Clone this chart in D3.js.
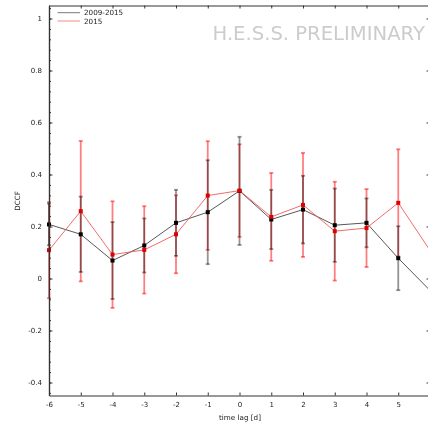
<!DOCTYPE html>
<html>
<head>
<meta charset="utf-8">
<script src="https://cdn.jsdelivr.net/npm/d3@7"></script>
<style>
  html, body { margin: 0; padding: 0; background: #fff; }
  svg { display: block; font-family: "DejaVu Sans", sans-serif; }
</style>
</head>
<body>
<svg id="chart" width="428" height="425"></svg>
<script>
// Time lags in days
const lags = [-6, -5, -4, -3, -2, -1, 0, 1, 2, 3, 4, 5, 6];

// DCCF, 2009-2015 data set
const dccfAll = [0.208, 0.170, 0.069, 0.127, 0.214, 0.255, 0.337, 0.227, 0.265, 0.205, 0.214, 0.078, -0.046];
const errAll  = [0.080, 0.145, 0.148, 0.104, 0.127, 0.200, 0.208, 0.114, 0.130, 0.141, 0.094, 0.123, 0.150];

// DCCF, 2015 data set
const dccf2015 = [0.109, 0.259, 0.092, 0.110, 0.170, 0.319, 0.338, 0.237, 0.283, 0.182, 0.194, 0.291, 0.108];
const err2015  = [0.185, 0.270, 0.205, 0.168, 0.150, 0.209, 0.178, 0.169, 0.200, 0.190, 0.150, 0.206, 0.200];

const xTicks = [-6, -5, -4, -3, -2, -1, 0, 1, 2, 3, 4, 5];
const yTicks = [-0.4, -0.2, 0, 0.2, 0.4, 0.6, 0.8, 1];

const svg = d3.select("#chart");
const plotLeft = 49, plotRight = 430, plotTop = 5.5, plotBottom = 395.5;

const x = d3.scaleLinear().domain([-6, 6]).range([plotLeft, plotRight]);
const y = d3.scaleLinear().domain([-0.45, 1.05]).range([plotBottom, plotTop]);

const axisColor = "#333";

// Watermark
svg.append("text")
  .attr("x", 212.5).attr("y", 39.5)
  .attr("font-size", 19.6)
  .attr("fill", "#cccccc")
  .text("H.E.S.S. PRELIMINARY");

// Plot contents
const plot = svg.append("g");

function drawSeries(vals, errs, barColor, barOpacity, lineColor, blend) {
  const pts = lags.map((l, i) => ({ l, v: vals[i], e: errs[i] }));
  const bars = plot.append("g")
    .attr("stroke", barColor)
    .attr("stroke-opacity", barOpacity)
    .attr("stroke-width", 1.8)
    .style("mix-blend-mode", blend);
  bars.selectAll("line.v").data(pts).join("line").attr("class", "v")
    .attr("x1", d => x(d.l)).attr("x2", d => x(d.l))
    .attr("y1", d => y(d.v - d.e)).attr("y2", d => y(d.v + d.e));
  bars.selectAll("line.lo").data(pts).join("line").attr("class", "lo")
    .attr("x1", d => x(d.l) - 2).attr("x2", d => x(d.l) + 2)
    .attr("y1", d => y(d.v - d.e)).attr("y2", d => y(d.v - d.e));
  bars.selectAll("line.hi").data(pts).join("line").attr("class", "hi")
    .attr("x1", d => x(d.l) - 2).attr("x2", d => x(d.l) + 2)
    .attr("y1", d => y(d.v + d.e)).attr("y2", d => y(d.v + d.e));

  plot.append("path")
    .datum(pts)
    .attr("fill", "none")
    .attr("stroke", lineColor)
    .attr("stroke-width", 0.9)
    .attr("d", d3.line().x(d => x(d.l)).y(d => y(d.v)));

  return pts;
}

const ptsAll = drawSeries(dccfAll, errAll, "#000", 0.42, "#444", "normal");
const pts15 = drawSeries(dccf2015, err2015, "#ff0000", 0.5, "#f05a5a", "multiply");

plot.append("g").selectAll("rect").data(ptsAll).join("rect")
  .attr("x", d => x(d.l) - 2).attr("y", d => y(d.v) - 2)
  .attr("width", 4).attr("height", 4).attr("fill", "#000");
plot.append("g").selectAll("rect").data(pts15).join("rect")
  .attr("x", d => x(d.l) - 2).attr("y", d => y(d.v) - 2)
  .attr("width", 4).attr("height", 4).attr("fill", "#e00000");

// Axes
const axisStyle = g => {
  g.select(".domain").attr("stroke", axisColor).attr("stroke-width", 1.2);
  g.selectAll(".tick line").attr("stroke", axisColor);
  g.selectAll(".tick text").attr("fill", "#222").attr("font-family", "DejaVu Sans, sans-serif").attr("font-size", 7);
};

svg.append("g")
  .attr("transform", `translate(0,${plotBottom})`)
  .call(d3.axisBottom(x).tickValues(xTicks).tickSizeInner(-3).tickSizeOuter(0).tickPadding(7).tickFormat(d => String(d)))
  .call(axisStyle);

svg.append("g")
  .attr("transform", `translate(0,${plotTop})`)
  .call(d3.axisTop(x).tickValues(xTicks).tickSizeInner(-3).tickSizeOuter(0).tickFormat(""))
  .call(axisStyle);

// Minor y ticks on the left axis
const minorY = d3.range(-0.44, 1.05, 0.04).map(v => +v.toFixed(2));
svg.append("g")
  .attr("transform", `translate(${plotLeft},0)`)
  .call(d3.axisLeft(y).tickValues(minorY).tickSizeInner(-2).tickSizeOuter(0).tickFormat(""))
  .call(axisStyle);

svg.append("g")
  .attr("transform", `translate(${plotLeft},0)`)
  .call(d3.axisLeft(y).tickValues(yTicks).tickSizeInner(-3.5).tickSizeOuter(0).tickPadding(7)
    .tickFormat(d => String(+d.toFixed(1))))
  .call(axisStyle);

svg.append("g")
  .attr("transform", `translate(${plotRight},0)`)
  .call(d3.axisRight(y).tickValues(yTicks).tickSizeInner(-3.5).tickSizeOuter(0).tickFormat(""))
  .call(axisStyle);

// Axis titles
svg.append("text")
  .attr("x", 240).attr("y", 420)
  .attr("text-anchor", "middle")
  .attr("font-size", 7.2).attr("fill", "#222")
  .text("time lag [d]");

svg.append("text")
  .attr("transform", "translate(20,201) rotate(-90)")
  .attr("text-anchor", "middle")
  .attr("font-size", 7.2).attr("fill", "#222")
  .text("DCCF");

// Legend
const legend = svg.append("g");
const legendItems = [
  { label: "2009-2015", color: "#7a7a7a", y: 12.7 },
  { label: "2015", color: "#f48a8a", y: 21 }
];
legendItems.forEach(it => {
  legend.append("line")
    .attr("x1", 57.5).attr("x2", 80).attr("y1", it.y).attr("y2", it.y)
    .attr("stroke", it.color).attr("stroke-width", 1);
  legend.append("text")
    .attr("x", 84).attr("y", it.y + 2.6)
    .attr("font-size", 7.2).attr("fill", "#222")
    .text(it.label);
});
</script>
</body>
</html>
